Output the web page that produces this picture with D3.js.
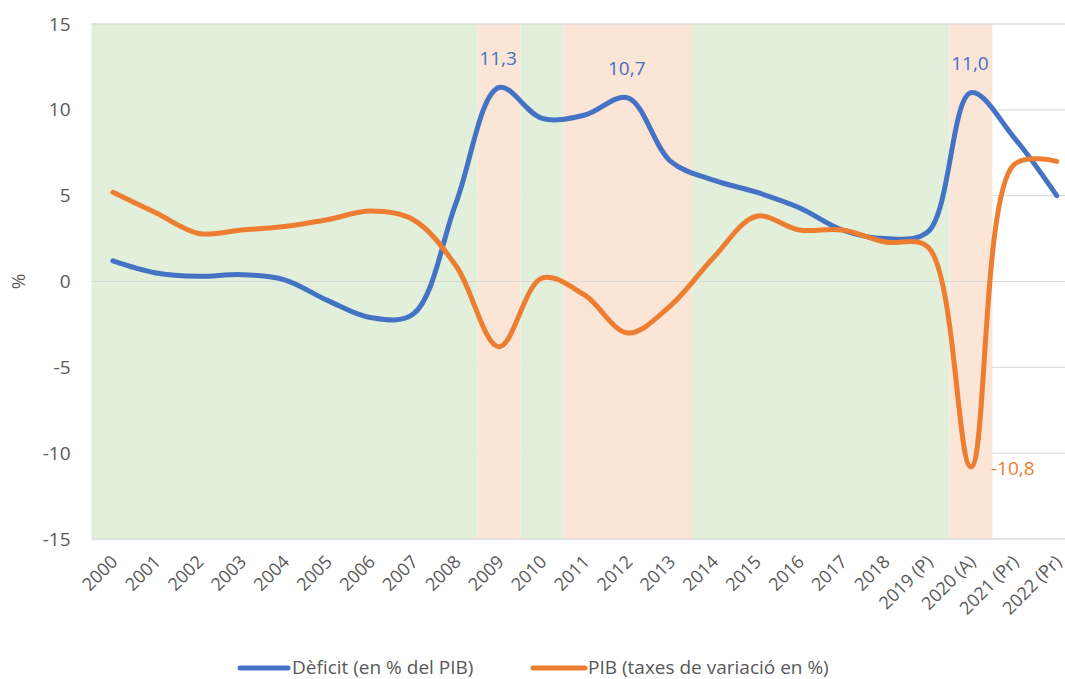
<!DOCTYPE html>
<html>
<head>
<meta charset="utf-8">
<script src="https://cdn.jsdelivr.net/npm/d3@7"></script>
<style>
    body { margin: 0; background: #fff; }
    svg text { font-family: 'Open Sans', sans-serif; fill: #595959; }
</style>
</head>
<body>
<div id="chart"></div>
<script>
// ---- Data ----
const years = ['2000', '2001', '2002', '2003', '2004', '2005', '2006', '2007', '2008', '2009',
    '2010', '2011', '2012', '2013', '2014', '2015', '2016', '2017', '2018',
    '2019 (P)', '2020 (A)', '2021 (Pr)', '2022 (Pr)'];

const deficit = [1.2, 0.5, 0.3, 0.4, 0.1, -1.1, -2.1, -1.9, 4.6, 11.3, 9.5, 9.7, 10.7, 7.0,
    5.9, 5.2, 4.3, 3.0, 2.5, 2.9, 11.0, 8.4, 5.0];

const pib = [5.2, 4.0, 2.8, 3.0, 3.2, 3.6, 4.1, 3.6, 0.9, -3.8, 0.2, -0.8, -3.0, -1.4,
    1.4, 3.8, 3.0, 3.0, 2.3, 2.0, -10.8, 6.8, 7.0];

// background phase per year: 'E' expansion (green), 'R' recession (pink), '' none
const phases = ['E', 'E', 'E', 'E', 'E', 'E', 'E', 'E', 'E', 'R', 'E', 'R', 'R', 'R',
    'E', 'E', 'E', 'E', 'E', 'E', 'R', '', ''];

const yTicks = [-15, -10, -5, 0, 5, 10, 15];

const seriesNames = ['Dèficit (en % del PIB)', 'PIB (taxes de variació en %)'];

// value labels: series index, year index, where
const valueLabels = [
    { s: 0, i: 9, pos: 'top' },
    { s: 0, i: 12, pos: 'top' },
    { s: 0, i: 20, pos: 'top' },
    { s: 1, i: 20, pos: 'right' }
];

// ---- Layout ----
const W = 1065, H = 679;
const margin = { top: 24, left: 91.5, bottom: 140 };
const plotW = 23 * 42.9;
const plotH = H - margin.top - margin.bottom;

const colors = ['#4472C4', '#ED7D31'];
const phaseColor = { E: '#E2EFDA', R: '#FBE5D6' };

const svg = d3.select('#chart').append('svg')
    .attr('width', W)
    .attr('height', H);

const g = svg.append('g')
    .attr('transform', `translate(${margin.left},${margin.top})`);

const x = d3.scaleBand().domain(years).range([0, plotW]).padding(0);
const y = d3.scaleLinear().domain([-15, 15]).range([plotH, 0]);
const cx = d => x(d) + x.bandwidth() / 2;

// --- Gridlines (under the shading) ---
g.selectAll('.grid')
    .data(yTicks)
    .enter().append('line')
    .attr('x1', 0).attr('x2', plotW)
    .attr('y1', d => y(d)).attr('y2', d => y(d))
    .attr('stroke', '#D9D9D9')
    .attr('stroke-width', 1);

// --- Phase shading, merged into runs ---
const runs = [];
phases.forEach((p, i) => {
    if (!p) return;
    const last = runs[runs.length - 1];
    if (last && last.p === p && last.end === i - 1) last.end = i;
    else runs.push({ p: p, start: i, end: i });
});

g.selectAll('.phase')
    .data(runs)
    .enter().append('rect')
    .attr('x', d => x(years[d.start]))
    .attr('width', d => x(years[d.end]) + x.bandwidth() - x(years[d.start]))
    .attr('y', y(15))
    .attr('height', y(-15) - y(15))
    .attr('fill', d => phaseColor[d.p]);

// lines that stay visible over the shading
g.selectAll('.grid-top')
    .data([15, 0, -15])
    .enter().append('line')
    .attr('x1', 0).attr('x2', plotW)
    .attr('y1', d => y(d)).attr('y2', d => y(d))
    .attr('stroke', '#D9D9D9')
    .attr('stroke-width', 1);

// --- Y axis labels ---
g.append('g')
    .call(d3.axisLeft(y).tickValues(yTicks).tickFormat(d => String(d)).tickSize(0).tickPadding(21))
    .call(a => a.select('.domain').remove())
    .selectAll('text')
    .style('font-size', '19px')
    .attr('fill', '#595959');

svg.append('text')
    .attr('transform', `translate(25,${margin.top + y(0)}) rotate(-90)`)
    .attr('text-anchor', 'middle')
    .style('font-size', '19px')
    .text('%');

// --- X axis labels (rotated) ---
g.selectAll('.xlab')
    .data(years)
    .enter().append('text')
    .attr('text-anchor', 'end')
    .attr('transform', d => `translate(${cx(d) - 3},${plotH + 15}) rotate(-45)`)
    .attr('dy', '0.7em')
    .style('font-size', '18px')
    .text(d => d);

// --- Lines ---
const line = d3.line()
    .x((d, i) => cx(years[i]))
    .y(d => y(d))
    .curve(d3.curveCatmullRom.alpha(0.5));

[deficit, pib].forEach((vals, s) => {
    g.append('path')
        .datum(vals)
        .attr('fill', 'none')
        .attr('stroke', colors[s])
        .attr('stroke-width', 5)
        .attr('stroke-linecap', 'round')
        .attr('stroke-linejoin', 'round')
        .attr('d', line);
});

// --- Value labels ---
const fmt = v => v.toFixed(1).replace('.', ',');
valueLabels.forEach(l => {
    const v = [deficit, pib][l.s][l.i];
    const px = cx(years[l.i]);
    const py = y(v);
    const t = g.append('text')
        .style('fill', colors[l.s])
        .style('font-size', '19px')
        .text(fmt(v));
    if (l.pos === 'top') {
        t.attr('x', px - 1).attr('y', py - 23).attr('text-anchor', 'middle');
    } else {
        t.attr('x', px + 20).attr('y', py + 8).attr('text-anchor', 'start');
    }
});

// --- Legend ---
const legendY = 668;
const legendItems = [
    { x1: 240, x2: 288, tx: 292 },
    { x1: 533, x2: 585, tx: 588 }
];
legendItems.forEach((d, s) => {
    svg.append('line')
        .attr('x1', d.x1).attr('x2', d.x2)
        .attr('y1', legendY).attr('y2', legendY)
        .attr('stroke', colors[s])
        .attr('stroke-width', 5)
        .attr('stroke-linecap', 'round');
    svg.append('text')
        .attr('x', d.tx)
        .attr('y', legendY + 6)
        .style('font-size', '19px')
        .text(seriesNames[s]);
});
</script>
</body>
</html>
